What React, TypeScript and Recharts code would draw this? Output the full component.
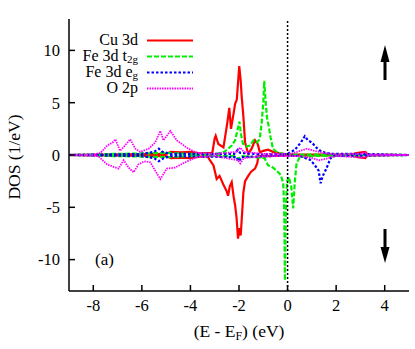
import React from 'react';
import { LineChart, Line, XAxis, YAxis, ReferenceLine, Customized } from 'recharts';

// Energy (eV) / DOS (1/eV) pairs, spin up positive, spin down negative
const cuUp: number[][] = [
  [-9, 0], [-7.5, 0.05], [-5, 0.1], [-4.8, 0.3], [-4.4, 0.25], [-4.0, 0.3], [-3.6, 0.15], [-3.1, 0.2],
  [-3.0, 1.6], [-2.96, 1.84], [-2.85, 1.05], [-2.64, 0.72], [-2.48, 3.1], [-2.4, 4.5], [-2.33, 2.5],
  [-2.22, 4.0], [-2.16, 4.9], [-2.09, 5.3], [-2.05, 6.6], [-1.99, 8.5], [-1.93, 7.1], [-1.89, 5.6],
  [-1.82, 3.7], [-1.75, 1.2], [-1.62, 0.1], [-1.48, 0.6], [-1.34, 1.4], [-1.23, 1.05], [-1.14, 0.25],
  [-1.0, 0.4], [-0.8, 0.5], [-0.6, 0.3], [-0.3, 0.15], [0, 0.05], [1, 0.05], [2.6, 0.05], [2.9, 0.2],
  [3.2, 0.3], [3.3, 0.05], [5, 0],
];
const cuDown: number[][] = [
  [-9, 0], [-7.5, -0.05], [-5, -0.1], [-4.8, -0.3], [-4.4, -0.25], [-4.0, -0.3], [-3.6, -0.15],
  [-3.3, -0.1], [-3.2, -0.5], [-3.05, -1.0], [-2.92, -2.3], [-2.8, -2.0], [-2.65, -2.8], [-2.5, -3.5],
  [-2.45, -3.9], [-2.38, -3.0], [-2.3, -2.6], [-2.22, -4.0], [-2.16, -4.8], [-2.1, -6.0], [-2.04, -8.0],
  [-1.99, -7.0], [-1.93, -7.7], [-1.87, -5.5], [-1.82, -3.6], [-1.75, -2.5], [-1.62, -2.0], [-1.5, -1.6],
  [-1.34, -1.3], [-1.25, -0.8], [-1.2, -0.1], [-0.8, -0.1], [0, -0.05], [2.6, -0.05], [2.9, -0.2],
  [3.2, -0.3], [3.3, -0.05], [5, 0],
];
const t2gUp: number[][] = [
  [-9, 0], [-7.2, 0.1], [-6, 0.15], [-5, 0.2], [-4, 0.1], [-3, 0.05], [-2.6, 0.3], [-2.45, 0.6],
  [-2.3, 0.9], [-2.16, 1.4], [-2.05, 2.5], [-1.98, 3.2], [-1.92, 2.0], [-1.84, 1.1], [-1.7, 0.8],
  [-1.55, 0.9], [-1.4, 1.4], [-1.27, 1.2], [-1.15, 1.5], [-1.07, 3.0], [-1.0, 5.0], [-0.96, 7.1],
  [-0.9, 5.0], [-0.85, 3.6], [-0.78, 2.8], [-0.7, 1.7], [-0.6, 0.6], [-0.4, 0.2], [0, 0.05], [5, 0],
];
const t2gDown: number[][] = [
  [-9, 0], [-7.2, -0.1], [-6, -0.15], [-5, -0.2], [-4, -0.1], [-2.2, -0.1], [-2.05, -0.4], [-1.9, -0.1],
  [-0.95, -0.3], [-0.8, -1.0], [-0.66, -1.1], [-0.45, -1.5], [-0.28, -1.9], [-0.18, -2.7], [-0.14, -5.0],
  [-0.11, -12.0], [-0.07, -5.0], [-0.02, -2.5], [0.05, -2.1], [0.15, -3.0], [0.23, -5.1], [0.3, -2.5],
  [0.37, -0.8], [0.5, -0.2], [1, -0.1], [5, 0],
];
const egUp: number[][] = [
  [-9, 0], [-6, 0.1], [-5.5, 0.3], [-5.3, 0.6], [-5.15, 0.3], [-4.8, 0.1], [-2.2, 0.1], [-2.05, 0.5],
  [-1.95, 0.2], [-1, 0.05], [0, 0.1], [0.3, 0.5], [0.55, 1.2], [0.71, 1.8], [0.84, 1.4], [1.0, 1.2],
  [1.19, 0.7], [1.4, 0.3], [1.8, 0.1], [3, 0.1], [5, 0],
];
const egDown: number[][] = [
  [-9, 0], [-6, -0.1], [-5.5, -0.3], [-5.3, -0.6], [-5.1, -0.3], [-4.8, -0.1], [-2.1, -0.2], [-2.0, -0.6],
  [-1.9, -0.2], [0, -0.05], [0.5, -0.1], [0.92, -0.45], [1.1, -0.9], [1.28, -1.5], [1.36, -2.7],
  [1.45, -2.0], [1.6, -1.3], [1.75, -0.4], [1.85, -0.1], [5, 0],
];
const o2pUp: number[][] = [
  [-9, 0.02], [-8, 0.05], [-7.7, 0.2], [-7.43, 0.9], [-7.2, 1.2], [-7.09, 1.5], [-6.9, 0.4], [-6.7, 0.9],
  [-6.48, 1.5], [-6.27, 0.6], [-6.07, 0.3], [-5.72, 0.6], [-5.45, 1.2], [-5.24, 2.3], [-5.11, 1.4],
  [-4.83, 2.3], [-4.56, 1.4], [-4.15, 0.7], [-3.74, 0.2], [-3, 0.1], [-2.1, 0.3], [-1.95, 0.7],
  [-1.8, 0.3], [-1, 0.1], [0.1, 0.1], [0.4, 0.3], [0.8, 0.6], [1.1, 0.4], [1.5, 0.2], [2, 0.05],
  [3, 0.1], [3.2, 0.25], [3.3, 0.05], [5, 0],
];
const o2pDown: number[][] = [
  [-9, -0.02], [-7.8, -0.1], [-7.43, -0.9], [-7.2, -1.1], [-6.96, -1.3], [-6.75, -0.5], [-6.55, -1.2],
  [-6.34, -1.65], [-6.14, -0.9], [-5.9, -0.6], [-5.65, -0.7], [-5.45, -1.5], [-5.24, -2.3], [-4.97, -1.3],
  [-4.63, -1.2], [-4.22, -0.7], [-3.74, -0.2], [-3, -0.1], [-2.05, -0.5], [-1.95, -0.8], [-1.8, -0.3],
  [-1, -0.1], [0.5, -0.1], [1.0, -0.3], [1.3, -0.5], [1.6, -0.35], [2, -0.1], [3.2, -0.25], [3.3, -0.05],
  [5, 0],
];

const xTicks = [-8, -6, -4, -2, 0, 2, 4];
const yTicks = [-10, -5, 0, 5, 10];
const legendLabels = ['Cu 3d', 'Fe 3d t', 'Fe 3d e', 'O 2p'];
const legendSubs = ['', '2g', 'g', ''];

const toRows = (arr: number[][]) => arr.map(([e, d]) => ({ e, d }));

const FONT = 'Liberation Serif';

const seriesStyle = [
  { color: '#ff0000', width: 2.2, dash: undefined as string | undefined },
  { color: '#00ee00', width: 2.2, dash: '5 2' },
  { color: '#0000ff', width: 2.2, dash: '2.5 2' },
  { color: '#ff00ff', width: 1.8, dash: '1.5 1' },
];

const Overlay = () => {
  const rowsY = [40.5, 56.5, 72.5, 88.5];
  return (
    <g>
      {legendLabels.map((lab, i) => (
        <g key={lab}>
          <text x={138} y={rowsY[i] + 4.5} textAnchor="end" fontFamily={FONT} fontSize={16} fill="#000">
            {lab}
            {legendSubs[i] ? (
              <tspan dy={2} fontSize={11}>{legendSubs[i]}</tspan>
            ) : null}
          </text>
          <line
            x1={147}
            x2={193}
            y1={rowsY[i]}
            y2={rowsY[i]}
            stroke={seriesStyle[i].color}
            strokeWidth={seriesStyle[i].width}
            strokeDasharray={seriesStyle[i].dash}
          />
        </g>
      ))}
      <text x={95} y={265} fontFamily={FONT} fontSize={17} fill="#000">(a)</text>
      <rect x={383.5} y={61} width={3} height={19} fill="#000" />
      <polygon points="380.5,62 389.5,62 385,45" fill="#000" />
      <rect x={383.5} y={229} width={3} height={19} fill="#000" />
      <polygon points="380.5,247 389.5,247 385,263" fill="#000" />
      <text x={239} y={337} textAnchor="middle" fontFamily={FONT} fontSize={17.5} fill="#000">
        (E - E<tspan dy={3} fontSize={12}>F</tspan><tspan dy={-3}>) (eV)</tspan>
      </text>
      <text
        x={14}
        y={157}
        textAnchor="middle"
        dominantBaseline="central"
        transform="rotate(-90, 14, 157)"
        fontFamily={FONT}
        fontSize={17.5}
        fill="#000"
      >
        DOS (1/eV)
      </text>
    </g>
  );
};

const series = [
  { key: 'cuUp', data: cuUp, s: 0 },
  { key: 'cuDown', data: cuDown, s: 0 },
  { key: 't2gUp', data: t2gUp, s: 1 },
  { key: 't2gDown', data: t2gDown, s: 1 },
  { key: 'egUp', data: egUp, s: 2 },
  { key: 'egDown', data: egDown, s: 2 },
  { key: 'o2pUp', data: o2pUp, s: 3 },
  { key: 'o2pDown', data: o2pDown, s: 3 },
];

export default function App() {
  const axisLine = { stroke: '#000', strokeWidth: 1.5 };
  const tickLine = { stroke: '#000', strokeWidth: 1.5 };
  const tickStyle = { fontFamily: FONT, fontSize: 16.5, fill: '#000' };
  return (
    <div style={{ position: 'absolute', left: 0, top: 0, background: '#fff' }}>
      <LineChart width={415} height={349} margin={{ top: 19, right: 6, bottom: 0, left: 0 }}>
        <XAxis
          xAxisId="b"
          type="number"
          dataKey="e"
          domain={[-9, 5]}
          ticks={xTicks}
          allowDataOverflow
          height={58}
          tickSize={-6}
          tickMargin={14}
          axisLine={axisLine}
          tickLine={tickLine}
          tick={tickStyle}
        />
        <XAxis
          xAxisId="t"
          orientation="top"
          type="number"
          dataKey="e"
          domain={[-9, 5]}
          ticks={xTicks}
          allowDataOverflow
          height={0}
          tickSize={-6}
          axisLine={axisLine}
          tickLine={tickLine}
          tick={false}
        />
        <YAxis
          yAxisId="l"
          type="number"
          domain={[-13, 13]}
          ticks={yTicks}
          allowDataOverflow
          width={69}
          tickSize={-6}
          tickMargin={15}
          axisLine={axisLine}
          tickLine={tickLine}
          tick={tickStyle}
        />
        <YAxis
          yAxisId="r"
          orientation="right"
          type="number"
          domain={[-13, 13]}
          ticks={yTicks}
          allowDataOverflow
          width={0}
          tickSize={-6}
          axisLine={axisLine}
          tickLine={tickLine}
          tick={false}
        />
        {series.map((sr) => (
          <Line
            key={sr.key}
            xAxisId="b"
            yAxisId="l"
            data={toRows(sr.data)}
            dataKey="d"
            name={sr.key}
            type="linear"
            stroke={seriesStyle[sr.s].color}
            strokeWidth={seriesStyle[sr.s].width}
            strokeDasharray={seriesStyle[sr.s].dash}
            dot={false}
            activeDot={false}
            isAnimationActive={false}
          />
        ))}
        <ReferenceLine
          xAxisId="b"
          yAxisId="l"
          x={0}
          stroke="#000"
          strokeWidth={1.5}
          strokeDasharray="2 2"
        />
        <Customized component={Overlay} />
      </LineChart>
    </div>
  );
}
